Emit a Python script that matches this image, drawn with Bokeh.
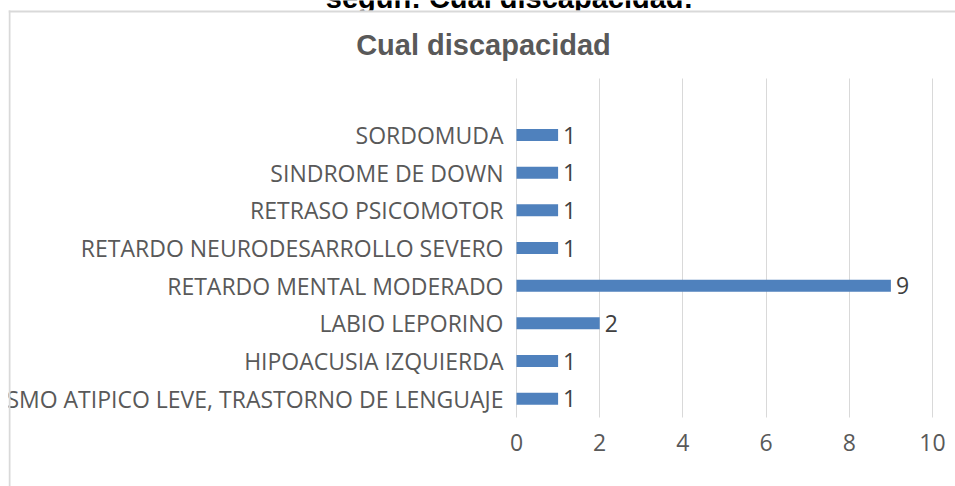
from bokeh.plotting import figure
from bokeh.models import Range1d, FixedTicker, Label, BoxAnnotation, ColumnDataSource, Grid
from bokeh.embed import file_html
from bokeh.resources import INLINE
from bokeh.core.properties import value

categories = [
    "AUTISMO ATIPICO LEVE, TRASTORNO DE LENGUAJE",
    "HIPOACUSIA IZQUIERDA",
    "LABIO LEPORINO",
    "RETARDO MENTAL MODERADO",
    "RETARDO NEURODESARROLLO SEVERO",
    "RETRASO PSICOMOTOR",
    "SINDROME DE DOWN",
    "SORDOMUDA",
]
counts = [1, 1, 2, 9, 1, 1, 1, 1]
x_ticks = [0, 2, 4, 6, 8, 10]
chart_title = "Cual discapacidad"
outer_title = "según: Cual discapacidad:"

positions = list(range(len(categories)))
source = ColumnDataSource(dict(y=positions, v=counts, lab=[str(c) for c in counts]))

W, H = 947, 486
PLOT_TOP, PLOT_BOTTOM = 78, 417          # canvas px of the plot area
ROW_PX = (PLOT_BOTTOM - PLOT_TOP) / 9.0  # 9 category slots (top one empty)
PX_PER_UNIT = 41.6
ZERO_X = 508

y0 = -0.5 - (H - PLOT_BOTTOM) / ROW_PX
y1 = 8.5 + PLOT_TOP / ROW_PX

p = figure(
    width=W, height=H,
    x_range=Range1d(-ZERO_X / PX_PER_UNIT, (W - ZERO_X) / PX_PER_UNIT),
    y_range=Range1d(y0, y1),
    output_backend="svg", toolbar_location=None,
    min_border_left=0, min_border_right=0,
    min_border_top=0, min_border_bottom=0,
    outline_line_color=None,
)
p.margin = (0, 0, 0, 8)

p.hbar(y="y", left=0, right="v", height=0.32, source=source,
       fill_color="#4F81BD", line_color=None)
p.text(x="v", y="y", text="lab", source=source, x_offset=5,
       text_align="left", text_baseline="middle",
       text_font=value("Open Sans"), text_font_size="23px", text_color="#404040")

# y axis (categories) anchored at x = 0
ya = p.yaxis[0]
ya.fixed_location = 0
ya.ticker = FixedTicker(ticks=positions)
ya.major_label_overrides = {i: c for i, c in zip(positions, categories)}
ya.axis_line_color = None
ya.major_tick_line_color = None
ya.minor_tick_line_color = None
ya.major_tick_out = 0
ya.major_tick_in = 0
ya.major_label_standoff = 13
ya.major_label_text_font = "Open Sans"
ya.major_label_text_font_size = "23px"
ya.major_label_text_color = "#595959"

xa = p.xaxis[0]
xa.fixed_location = -0.5
xa.ticker = FixedTicker(ticks=x_ticks)
xa.bounds = (0, 10)
xa.axis_line_color = None
xa.major_tick_line_color = None
xa.minor_tick_line_color = None
xa.major_tick_out = 0
xa.major_tick_in = 0
xa.major_label_standoff = 16
xa.major_label_text_font = "Open Sans"
xa.major_label_text_font_size = "23px"
xa.major_label_text_color = "#595959"

p.xgrid.grid_line_color = "#d9d9d9"
p.xgrid.grid_line_width = 1
p.xgrid.bounds = (0, 10)
if "cross_bounds" in Grid.properties():
    p.xgrid.cross_bounds = (-0.5, 8.5)
p.ygrid.grid_line_color = None

# surrounding document title, cut off by the top of the view and by the chart box
p.add_layout(Label(x=501, y=H + 2.5, x_units="screen", y_units="screen",
                   text=outer_title, text_align="center", text_baseline="alphabetic",
                   text_font="Liberation Sans", text_font_style="bold",
                   text_font_size="29px", text_color="#000000"))
p.add_layout(BoxAnnotation(left=2, right=2000, top=H - 10, bottom=H - 26,
                           left_units="screen", right_units="screen",
                           top_units="screen", bottom_units="screen",
                           fill_color="#ffffff", fill_alpha=1, line_color=None))

# chart border (top and left visible); screen y measured up from the bottom
p.add_layout(BoxAnnotation(left=0, right=2, top=H - 10, bottom=-20,
                           left_units="screen", right_units="screen",
                           top_units="screen", bottom_units="screen",
                           fill_color="#d9d9d9", fill_alpha=1, line_color=None))
p.add_layout(BoxAnnotation(left=0, right=2000, top=H - 10, bottom=H - 12,
                           left_units="screen", right_units="screen",
                           top_units="screen", bottom_units="screen",
                           fill_color="#d9d9d9", fill_alpha=1, line_color=None))

p.add_layout(Label(x=475, y=H - 44, x_units="screen", y_units="screen",
                   text=chart_title, text_align="center", text_baseline="alphabetic",
                   text_font="Liberation Sans", text_font_style="bold",
                   text_font_size="29px", text_color="#595959"))

open("out.html", "w").write(file_html(p, INLINE))
